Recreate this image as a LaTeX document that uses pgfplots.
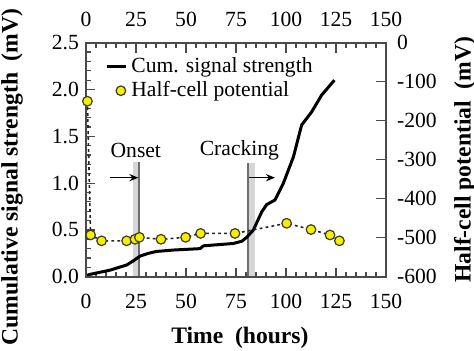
\documentclass[border=0pt]{standalone}
\usepackage{fontspec}
\setmainfont{Liberation Serif}
\usepackage{pgfplots}
\pgfplotsset{compat=1.18}
\usetikzlibrary{arrows.meta}

\definecolor{markyellow}{HTML}{F6EF00}
\definecolor{markedge}{HTML}{3C3C1E}
\definecolor{framegray}{HTML}{4A4A4A}
\definecolor{bandgray}{HTML}{D6D6D6}
\definecolor{linegray}{HTML}{6E6E6E}

\newcommand{\tickfont}{\fontsize{10.8pt}{12pt}\selectfont}
\newcommand{\labelfont}{\fontsize{11.8pt}{13pt}\selectfont\bfseries}

\pgfplotsset{
  common/.style={
    scale only axis, width=150pt, height=117pt,
    at={(0pt,0pt)}, anchor=south west,
    xmin=0, xmax=150,
    xtick={0,25,...,150}, minor x tick num=4,
    xticklabels={0,25,50,75,100,125,150},
    tick align=inside,
    major tick length=4.5pt, minor tick length=2.4pt,
    axis line style={framegray, line width=0.8pt},
    every tick/.style={framegray, line width=0.6pt},
    tick label style={font=\tickfont},
    label style={font=\labelfont},
  },
  linelegend/.style={legend image code/.code={\draw[##1] (0pt,0pt) -- (9.5pt,0pt);}},
  marklegend/.style={legend image code/.code={\path (0pt,0pt) (9.5pt,0pt);
      \draw[##1, only marks] plot coordinates {(7pt,0pt)};}},
}

\begin{document}
\begin{tikzpicture}
\path[use as bounding box] (-43pt,-36.65pt) rectangle (194pt,138.35pt);

% left axis: cumulative signal strength
\begin{axis}[common,
  ymin=0, ymax=2.5,
  ytick={0,0.5,...,2.5}, minor y tick num=4,
  yticklabels={0.0,0.5,1.0,1.5,2.0,2.5},
  xtick pos=left, xticklabel pos=left,
  ytick pos=left, yticklabel pos=left,
  xticklabel style={yshift=-5.4pt},
  xlabel={Time~\ (hours)},
  ylabel={Cumulative signal strength~\ (mV)},
  xlabel style={at={(axis description cs:0.513,-0.262)}, anchor=center},
  ylabel style={at={(axis description cs:-0.2467,0.4265)}, anchor=center},
]
  % event bands
  \fill[bandgray] (axis cs:23.7,0) rectangle (axis cs:26.7,1.23);
  \draw[linegray, line width=1pt] (axis cs:26.7,0) -- (axis cs:26.7,1.23);
  \fill[bandgray] (axis cs:81.2,0) rectangle (axis cs:84.5,1.21);
  \draw[linegray, line width=1pt] (axis cs:81.2,0) -- (axis cs:81.2,1.21);
  \draw[-{Stealth[length=4.5pt,width=3.6pt]}, line width=0.8pt]
    (axis cs:12,1.058) -- (axis cs:26.2,1.058);
  \draw[-{Stealth[length=4.5pt,width=3.6pt]}, line width=0.8pt]
    (axis cs:81.7,1.058) -- (axis cs:94.5,1.058);
  \node[font=\tickfont] at (axis cs:24.9,1.354) {Onset};
  \node[font=\tickfont] at (axis cs:76.7,1.354) {Cracking};

  \addplot[black, line width=1.5pt, line join=round] coordinates {
    (0,0.01) (2,0.025) (5.3,0.04) (12,0.07) (20.3,0.125) (23.7,0.17)
    (27,0.22) (31.2,0.25) (35.3,0.27) (43.7,0.285) (57,0.30) (58.7,0.33)
    (73.7,0.355) (78,0.38) (80.3,0.42) (83.7,0.50) (87.8,0.69) (90.3,0.77)
    (94.5,0.82) (98.7,1.0) (103.7,1.28) (107.8,1.62) (112.8,1.76)
    (117.8,1.94) (124.2,2.10)
  };
\end{axis}

% right axis: half-cell potential
\begin{axis}[common,
  ymin=-600, ymax=0,
  ytick={-600,-500,...,0},
  yticklabels={-600,-500,-400,-300,-200,-100,0},
  xtick pos=right, xticklabel pos=right,
  ytick pos=right, yticklabel pos=right,
  xticklabel style={yshift=4.4pt},
  yticklabel style={xshift=2pt},
  major tick length=5pt,
  ylabel={Half-cell potential~\ (mV)},
  ylabel style={at={(axis description cs:1.263,0.5)}, anchor=center},
  clip=false,
  legend style={draw=none, fill=none, font=\tickfont,
    at={(axis description cs:0.0633,0.955)}, anchor=north west,
    inner sep=0pt, row sep=-1pt, column sep=0pt,
    cells={anchor=west}},
]
  \addlegendimage{black, line width=1.5pt, linelegend}
  \addlegendentry{Cum. signal strength}

  \addplot[black!85, line width=0.8pt, dash pattern=on 1.4pt off 1.6pt,
    mark=*, mark size=2.4pt,
    mark options={solid, fill=markyellow, draw=markedge, line width=0.6pt},
    marklegend]
    coordinates {
    (0.7,-150) (2.3,-493) (7.8,-508) (20.3,-508) (24.5,-504) (26.7,-499)
    (37.5,-504) (49.8,-499) (57.3,-489) (74.5,-489) (100.3,-463)
    (112.5,-479) (122,-493) (126.7,-508)
  };
  \addlegendentry{Half-cell potential}
\end{axis}
\end{tikzpicture}
\end{document}
